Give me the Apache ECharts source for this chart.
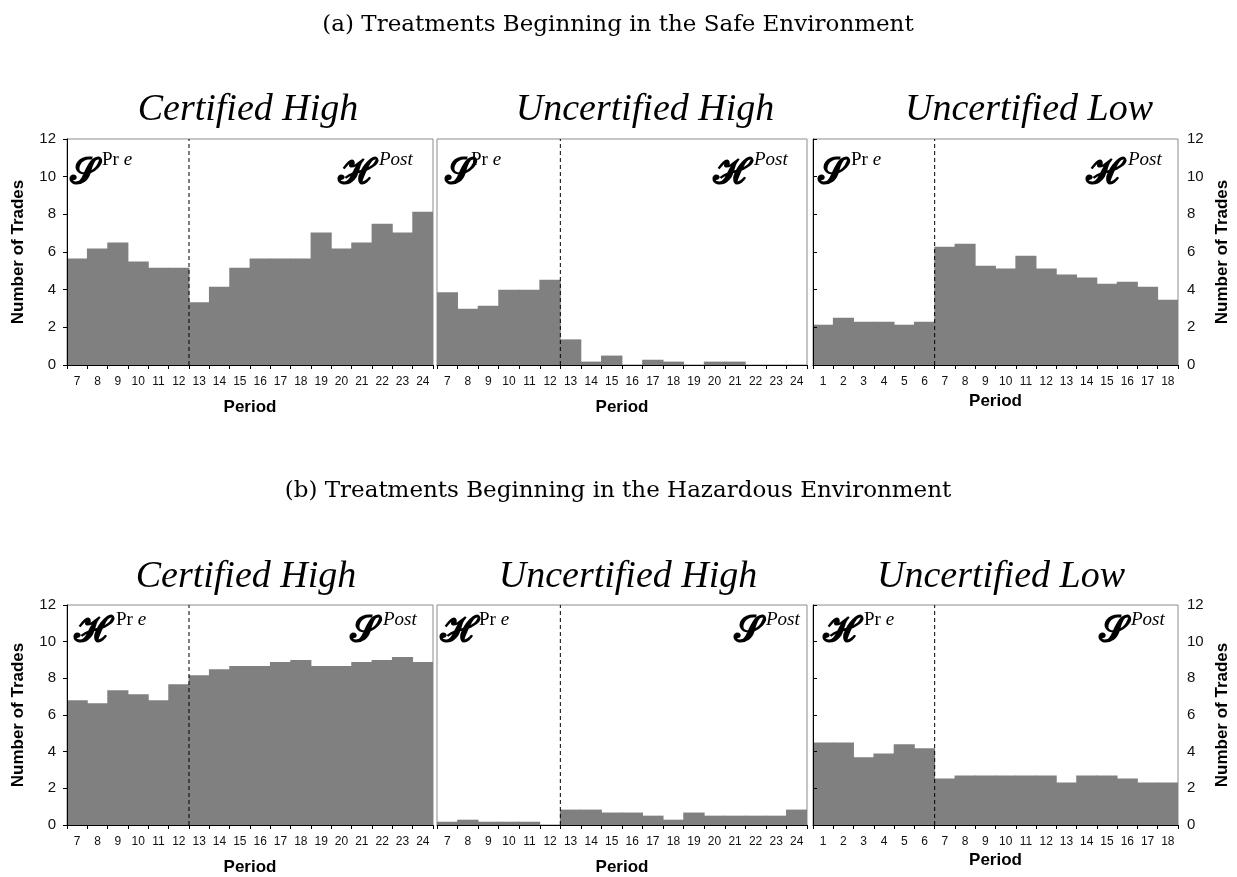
<!DOCTYPE html>
<html>
<head>
<meta charset="utf-8">
<script src="https://cdn.jsdelivr.net/npm/echarts@6/dist/echarts.min.js"></script>
<style>
html,body{margin:0;padding:0;background:#fff;}
#chart{width:1237px;height:877px;}
</style>
</head>
<body>
<div id="chart"></div>
<script>
// ---------------- data ----------------
const periodsHigh = ['7','8','9','10','11','12','13','14','15','16','17','18','19','20','21','22','23','24'];
const periodsLow  = ['1','2','3','4','5','6','7','8','9','10','11','12','13','14','15','16','17','18'];

const safeCertHigh   = [5.65,6.18,6.5,5.49,5.17,5.17,3.33,4.16,5.17,5.65,5.65,5.65,7.03,6.18,6.5,7.5,7.03,8.14];
const safeUncertHigh = [3.86,2.99,3.15,4.0,4.0,4.53,1.36,0.18,0.5,0,0.28,0.18,0,0.18,0.18,0,0,0];
const safeUncertLow  = [2.14,2.51,2.3,2.3,2.14,2.3,6.28,6.44,5.27,5.12,5.8,5.12,4.8,4.64,4.32,4.42,4.16,3.47];
const hazCertHigh    = [6.8,6.64,7.35,7.13,6.8,7.68,8.17,8.5,8.67,8.67,8.89,9.0,8.67,8.67,8.89,9.0,9.16,8.89];
const hazUncertHigh  = [0.18,0.29,0.18,0.18,0.18,0,0.84,0.84,0.68,0.68,0.51,0.29,0.68,0.51,0.51,0.51,0.51,0.84];
const hazUncertLow   = [4.5,4.5,3.69,3.9,4.4,4.18,2.54,2.7,2.7,2.7,2.7,2.7,2.32,2.7,2.7,2.54,2.32,2.32];

const prePeriods = [6,6,6,6,6,6];   // number of "Pre" periods in each panel (dashed line position)
const yMin = 0, yMax = 12, yStep = 2;

const captions = ['(a) Treatments Beginning in the Safe Environment','(b) Treatments Beginning in the Hazardous Environment'];
const panelTitles = ['Certified High','Uncertified High','Uncertified Low'];
const preLetters  = ['\u{1D4E2}','\u{1D4D7}'];   // script S (safe), script H (hazardous)
const postLetters = ['\u{1D4D7}','\u{1D4E2}'];
const yName = 'Number of Trades';
const xName = 'Period';

// ---------------- layout ----------------
const rows = [
  {top:139, height:226, capY:25,  titleY:110, bigY:174, supY:160},
  {top:605, height:220, capY:491, titleY:577, bigY:632, supY:620}
];
const cols = [
  {left:67,  width:366},
  {left:437, width:370},
  {left:813, width:365}
];
const titleX = [[248,645,1029],[246,628,1001]];
const preX  = [[70,102],[445,471],[818,851],[74,116],[440,479],[823,864]];
const postX = [[338,379],[713,754],[1086,1128],[350,383],[734,766],[1099,1131]];
const nameGapX = [[34,34,28],[34,34,27]];

const panelData = [[safeCertHigh,safeUncertHigh,safeUncertLow],[hazCertHigh,hazUncertHigh,hazUncertLow]];
const panelCats = [periodsHigh,periodsHigh,periodsLow];

const grids=[], xAxes=[], yAxes=[], series=[], graphics=[];
const serif = "'Liberation Serif','Times New Roman',serif";
const sans = "'Liberation Sans',Arial,sans-serif";
const scriptFont = "'DejaVu Serif','DejaVu Sans',serif";

captions.forEach((c,r)=>{
  graphics.push({type:'text', x:618, y:rows[r].capY, style:{text:c, fontFamily:"'DejaVu Serif',serif", fontSize:23, fill:'#000', align:'center', verticalAlign:'middle'}});
});

let idx = 0;
for (let r=0;r<2;r++){
  for (let c=0;c<3;c++){
    const g = idx;
    grids.push({left:cols[c].left, top:rows[r].top, width:cols[c].width, height:rows[r].height,
      show:true, borderColor:'#8c8c8c', borderWidth:1, backgroundColor:'transparent', containLabel:false});
    const cats = panelCats[c];
    xAxes.push({type:'category', gridIndex:g, data:cats, position:'bottom', z:5,
      axisLine:{show:true, lineStyle:{color:'#000', width:1}},
      axisTick:{show:true, length:4, lineStyle:{color:'#000'}, interval:0},
      axisLabel:{interval:0, margin:11, fontFamily:sans, fontSize:12, color:'#111'},
      splitLine:{show:false},
      name:xName, nameLocation:'middle', nameGap:nameGapX[r][c],
      nameTextStyle:{fontFamily:sans, fontSize:17, fontWeight:'bold', color:'#000'}
    });
    xAxes.push({type:'value', gridIndex:g, min:0, max:cats.length, show:false});
    const showY = (c!==1);
    yAxes.push({type:'value', gridIndex:g, min:yMin, max:yMax, interval:yStep, z:5,
      position: c===2 ? 'right' : 'left',
      axisLine:{show:showY, lineStyle:{color:'#000', width:1}},
      axisTick:{show:showY, length:4, lineStyle:{color:'#000'}},
      axisLabel:{show:showY, margin: c===2 ? 9 : 11, fontFamily:sans, fontSize:15, color:'#111'},
      splitLine:{show:false},
      name: showY ? yName : '', nameLocation:'middle', nameRotate:90, nameGap: c===2 ? 36 : 40,
      nameTextStyle:{fontFamily:sans, fontSize:17, fontWeight:'bold', color:'#000'}
    });
    series.push({type:'bar', xAxisIndex:2*g, yAxisIndex:g, data:panelData[r][c],
      barCategoryGap:'0%', barGap:'0%', barWidth:'104%', itemStyle:{color:'#808080'}, silent:true, z:2});
    const b = prePeriods[g];
    series.push({type:'line', xAxisIndex:2*g+1, yAxisIndex:g, data:[[b,yMin],[b,yMax]],
      symbol:'none', silent:true, z:6, lineStyle:{color:'#000', width:1, type:[4,3]}});

    // panel title
    graphics.push({type:'text', x:titleX[r][c], y:rows[r].titleY,
      style:{text:panelTitles[c], fontFamily:serif, fontStyle:'italic', fontSize:38, fill:'#000', align:'center', verticalAlign:'middle'}});
    // pre / post labels
    graphics.push({type:'text', x:preX[g][0], y:rows[r].bigY,
      style:{text:preLetters[r], fontFamily:scriptFont, fontWeight:'bold', fontSize:36, fill:'#000', align:'left', verticalAlign:'middle'}});
    graphics.push({type:'text', x:preX[g][1], y:rows[r].supY,
      style:{text:'{u|Pr}{i| e}', fill:'#000', align:'left', verticalAlign:'middle',
        rich:{u:{fontFamily:serif, fontSize:19, fill:'#000'}, i:{fontFamily:serif, fontStyle:'italic', fontSize:19, fill:'#000'}}}});
    graphics.push({type:'text', x:postX[g][0], y:rows[r].bigY,
      style:{text:postLetters[r], fontFamily:scriptFont, fontWeight:'bold', fontSize:36, fill:'#000', align:'left', verticalAlign:'middle'}});
    graphics.push({type:'text', x:postX[g][1], y:rows[r].supY,
      style:{text:'Post', fontFamily:serif, fontStyle:'italic', fontSize:19, fill:'#000', align:'left', verticalAlign:'middle'}});
    idx++;
  }
}

const chart = echarts.init(document.getElementById('chart'), null, {renderer:'canvas'});
chart.setOption({
  animation:false,
  backgroundColor:'#fff',
  grid:grids, xAxis:xAxes, yAxis:yAxes, series:series,
  graphic:graphics
});
</script>
</body>
</html>
